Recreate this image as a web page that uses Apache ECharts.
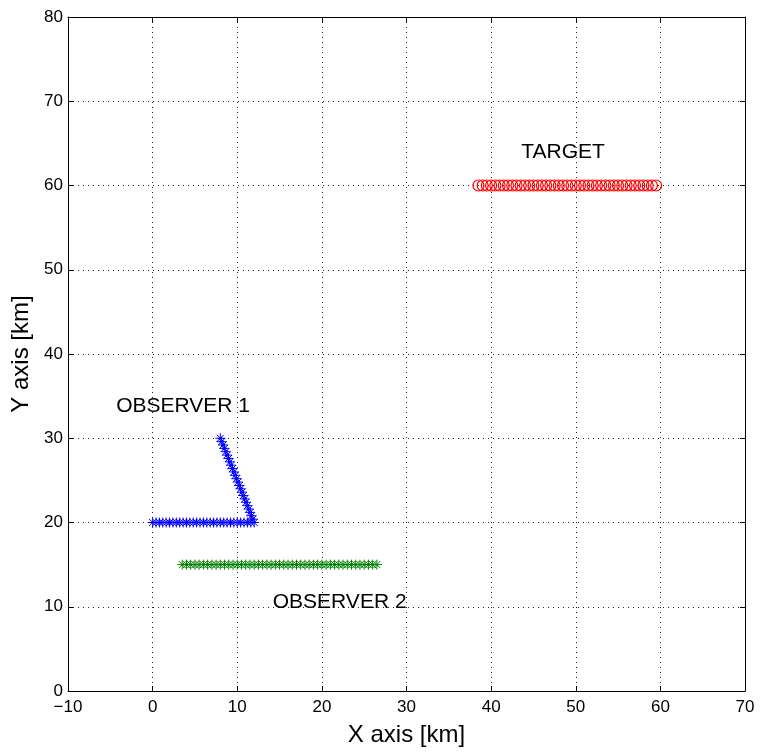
<!DOCTYPE html>
<html>
<head>
<meta charset="utf-8">
<script src="https://cdn.jsdelivr.net/npm/echarts@6/dist/echarts.min.js"></script>
<style>html,body{margin:0;padding:0;background:#fff;overflow:hidden}#c{width:760px;height:752px}</style>
</head>
<body>
<div id="c"></div>
<script>
// Observer 1 track (x, y in km)
var obs1X = [0,0.4,0.8,1.2,1.6,2,2.4,2.8,3.2,3.6,4,4.4,4.8,5.2,5.6,6,6.4,6.8,7.2,7.6,8,8.4,8.8,9.2,9.6,10,10.4,10.8,11.2,11.6,12,
  11.84,11.68,11.52,11.36,11.2,11.04,10.88,10.72,10.56,10.4,10.24,10.08,9.92,9.76,9.6,9.44,9.28,9.12,8.96,8.8,8.64,8.48,8.32,8.16,8];
var obs1Y = [20,20,20,20,20,20,20,20,20,20,20,20,20,20,20,20,20,20,20,20,20,20,20,20,20,20,20,20,20,20,20,
  20.4,20.8,21.2,21.6,22,22.4,22.8,23.2,23.6,24,24.4,24.8,25.2,25.6,26,26.4,26.8,27.2,27.6,28,28.4,28.8,29.2,29.6,30];
// Observer 2 track
var obs2X = [3.5,4,4.5,5,5.5,6,6.5,7,7.5,8,8.5,9,9.5,10,10.5,11,11.5,12,12.5,13,13.5,14,14.5,15,15.5,16,16.5,17,17.5,18,18.5,19,19.5,20,20.5,21,21.5,22,22.5,23,23.5,24,24.5,25,25.5,26,26.5];
var obs2Y = [15,15,15,15,15,15,15,15,15,15,15,15,15,15,15,15,15,15,15,15,15,15,15,15,15,15,15,15,15,15,15,15,15,15,15,15,15,15,15,15,15,15,15,15,15,15,15];
// Target track
var tgtX = [38.5,39,39.5,40,40.5,41,41.5,42,42.5,43,43.5,44,44.5,45,45.5,46,46.5,47,47.5,48,48.5,49,49.5,50,50.5,51,51.5,52,52.5,53,53.5,54,54.5,55,55.5,56,56.5,57,57.5,58,58.5,59,59.5];
var tgtY = [60,60,60,60,60,60,60,60,60,60,60,60,60,60,60,60,60,60,60,60,60,60,60,60,60,60,60,60,60,60,60,60,60,60,60,60,60,60,60,60,60,60,60];
// Annotations
var labelNames = ['OBSERVER 1', 'OBSERVER 2', 'TARGET'];
var labelX = [3.6, 22.1, 48.5];
var labelY = [33.8, 10.5, 63.9];

function zip(a, b) { return a.map(function (v, i) { return [v, b[i]]; }); }

var star = 'path://M0,-10L0,10M-10,0L10,0M-7,-7L7,7M-7,7L7,-7';
var font = '"Liberation Sans", Arial, Helvetica, sans-serif';

var chart = echarts.init(document.getElementById('c'), null, {renderer: 'canvas', width: 760, height: 752});

var baseAxis = {
  axisLine: {show: true, onZero: false, lineStyle: {color: '#000', width: 1}},
  axisTick: {show: true, inside: true, length: 5, lineStyle: {color: '#000'}},
  splitLine: {show: false},
  axisLabel: {show: false}
};

chart.setOption({
  animation: false,
  backgroundColor: '#fff',
  grid: {left: 68, right: 15, top: 17, bottom: 51, containLabel: false},
  xAxis: [
    Object.assign({}, baseAxis, {
      type: 'value', min: -10, max: 70, interval: 10, position: 'bottom',
      name: 'X axis [km]', nameLocation: 'middle', nameGap: 32,
      nameTextStyle: {fontFamily: font, fontSize: 24, color: '#000'},
      axisLabel: {show: true, fontFamily: font, fontSize: 17, color: '#000', margin: 8,
        formatter: function (v) { return v < 0 ? '\u2212' + (-v) : String(v); }},
      splitLine: {show: true, lineStyle: {color: '#222', type: [1, 4], width: 1}}
    }),
    Object.assign({}, baseAxis, {type: 'value', min: -10, max: 70, interval: 10, position: 'top'})
  ],
  yAxis: [
    Object.assign({}, baseAxis, {
      type: 'value', min: 0, max: 80, interval: 10, position: 'left',
      name: 'Y axis [km]', nameLocation: 'middle', nameGap: 33,
      nameTextStyle: {fontFamily: font, fontSize: 24, color: '#000'},
      axisLabel: {show: true, fontFamily: font, fontSize: 17, color: '#000', margin: 5},
      splitLine: {show: true, lineStyle: {color: '#222', type: [1, 4], width: 1}}
    }),
    Object.assign({}, baseAxis, {type: 'value', min: 0, max: 80, interval: 10, position: 'right'})
  ],
  series: [
    {
      type: 'scatter', xAxisIndex: 0, yAxisIndex: 0,
      data: zip(tgtX, tgtY), symbol: 'circle', symbolSize: 11,
      itemStyle: {color: 'rgba(0,0,0,0)', borderColor: '#ff0000', borderWidth: 1.2, opacity: 1}
    },
    {
      type: 'scatter', xAxisIndex: 0, yAxisIndex: 0,
      data: zip(obs2X, obs2Y), symbol: star, symbolSize: 10,
      itemStyle: {color: 'none', borderColor: '#008000', borderWidth: 1, opacity: 1}
    },
    {
      type: 'scatter', xAxisIndex: 0, yAxisIndex: 0,
      data: zip(obs1X, obs1Y), symbol: star, symbolSize: 10,
      itemStyle: {color: 'none', borderColor: '#0000ff', borderWidth: 1, opacity: 1}
    },
    {
      type: 'scatter', xAxisIndex: 0, yAxisIndex: 0, symbolSize: 1, silent: true,
      data: labelNames.map(function (n, i) { return {name: n, value: [labelX[i], labelY[i]]}; }),
      itemStyle: {color: 'rgba(0,0,0,0)', opacity: 1},
      label: {show: true, position: 'inside', formatter: '{b}', fontFamily: font, fontSize: 21, color: '#000', opacity: 1}
    }
  ]
});
</script>
</body>
</html>
